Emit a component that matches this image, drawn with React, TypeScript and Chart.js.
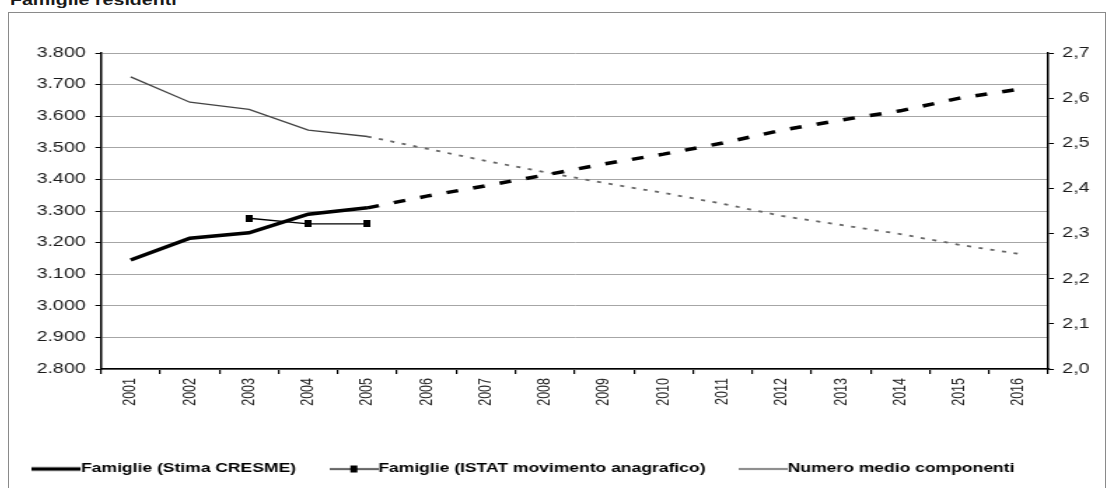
import React, { useEffect, useRef } from 'react';
import { Chart, registerables } from 'chart.js';

Chart.register(...registerables);

// ---------- data ----------
const years = ['2001', '2002', '2003', '2004', '2005', '2006', '2007', '2008', '2009', '2010', '2011', '2012', '2013', '2014', '2015', '2016'];
const famiglieCresme = [3145, 3214, 3231, 3290, 3310, 3347, 3380, 3414, 3449, 3480, 3515, 3556, 3588, 3617, 3657, 3685];
const famiglieIstat = [null, null, 3277, 3259, 3259, null, null, null, null, null, null, null, null, null, null, null];
const numeroMedio = [2.647, 2.591, 2.575, 2.529, 2.515, 2.488, 2.461, 2.436, 2.412, 2.39, 2.366, 2.339, 2.319, 2.299, 2.275, 2.255];
const lastObservedIndex = 4; // 2005: after this the series are projections
const seriesLabels = ['Famiglie (Stima CRESME)', 'Famiglie (ISTAT movimento anagrafico)', 'Numero medio componenti'];
const titleText = 'Famiglie residenti';
const leftAxis = { min: 2800, max: 3800, step: 100 };
const rightAxis = { min: 2.0, max: 2.7, step: 0.1 };

// ---------- rendering constants ----------
const SX = 1.4; // horizontal stretch of the original picture
const OX = 20; // hidden internal margin on the left of the canvas
const W = 804;
const H = 500;
const FONT = 'Liberation Sans, Arial, sans-serif';

function makeImg(w: number, h: number, draw: (ctx: CanvasRenderingContext2D) => void) {
  const c = document.createElement('canvas');
  c.width = w;
  c.height = h;
  const ctx = c.getContext('2d') as CanvasRenderingContext2D;
  draw(ctx);
  return c;
}

function fmtThousands(v: number) {
  const s = Math.round(v).toString();
  return s.replace(/\B(?=(\d{3})+(?!\d))/g, '.');
}

export default function App() {
  const ref = useRef<HTMLCanvasElement | null>(null);

  useEffect(() => {
    const canvas = ref.current;
    if (!canvas) return;

    const square = makeImg(5, 7, (ctx) => {
      ctx.fillStyle = '#000';
      ctx.fillRect(0, 0, 5, 7);
    });
    const legCresme = makeImg(35, 9, (ctx) => {
      ctx.fillStyle = '#000';
      ctx.fillRect(0, 2.75, 35, 3.5);
    });
    const legIstat = makeImg(35, 9, (ctx) => {
      ctx.fillStyle = '#000';
      ctx.fillRect(0, 3.9, 35, 1.3);
      ctx.fillRect(15, 1, 5, 7);
    });
    const legNumero = makeImg(35, 9, (ctx) => {
      ctx.fillStyle = '#333';
      ctx.fillRect(0, 3.9, 35, 1.2);
    });
    const legendImgs = [legCresme, legIstat, legNumero];

    const legendPad = 30;
    const fs = 12.5;
    const padLeft = 12.7;
    const areaLeft = 65.7 + OX;
    const areaRight = 742.1 + OX;

    const chart = new Chart(canvas, {
      type: 'line',
      data: {
        labels: years,
        datasets: [
          {
            label: seriesLabels[0],
            data: famiglieCresme,
            yAxisID: 'y',
            borderColor: '#000',
            borderWidth: 3.5,
            pointRadius: 0,
            tension: 0,
            segment: {
              borderDash: (ctx: any) => (ctx.p0DataIndex >= lastObservedIndex ? [8.5, 11] : undefined),
            },
          },
          {
            label: seriesLabels[1],
            data: famiglieIstat,
            yAxisID: 'y',
            borderColor: '#000',
            borderWidth: 1.3,
            pointStyle: square as any,
            pointRadius: 3,
            tension: 0,
            spanGaps: false,
          },
          {
            label: seriesLabels[2],
            data: numeroMedio,
            yAxisID: 'y1',
            borderColor: '#444',
            borderWidth: 1.3,
            pointRadius: 0,
            tension: 0,
            segment: {
              borderDash: (ctx: any) => (ctx.p0DataIndex >= lastObservedIndex ? [3, 5.5] : undefined),
              borderColor: (ctx: any) => (ctx.p0DataIndex >= lastObservedIndex ? '#666' : undefined),
              borderWidth: (ctx: any) => (ctx.p0DataIndex >= lastObservedIndex ? 1.8 : undefined),
            },
          },
        ],
      },
      options: {
        responsive: false,
        animation: false,
        events: [],
        layout: { padding: { top: 40, bottom: 27.75, left: padLeft, right: 0 } },
        plugins: {
          tooltip: { enabled: false },
          title: { display: false },
          legend: {
            display: true,
            position: 'bottom',
            align: 'start',
            labels: {
              usePointStyle: true,
              pointStyleWidth: 22.5,
              padding: legendPad,
              color: '#000',
              font: { family: FONT, size: fs, weight: 'bold' },
              generateLabels: () =>
                seriesLabels.map((t, i) => ({
                  text: t,
                  pointStyle: legendImgs[i] as any,
                  fillStyle: '#000',
                  strokeStyle: '#000',
                  lineWidth: 0,
                  hidden: false,
                  datasetIndex: i,
                })),
            },
          },
        },
        scales: {
          x: {
            type: 'category',
            offset: true,
            grid: { offset: true, drawOnChartArea: false, drawTicks: true, tickColor: '#000', tickLength: 5, lineWidth: 1.2 },
            border: { color: '#000', width: 1.5 },
            ticks: {
              autoSkip: false,
              minRotation: 90,
              maxRotation: 90,
              padding: 4,
              color: '#222',
              font: { family: FONT, size: 12.5 },
            },
            afterFit: (scale: any) => {
              scale.height = 63.75;
            },
          },
          y: {
            position: 'left',
            min: leftAxis.min,
            max: leftAxis.max,
            grid: { color: '#a6a6a6', lineWidth: 1, tickColor: '#000', tickLength: 4, drawTicks: true },
            border: { color: '#000', width: 1.5 },
            ticks: {
              stepSize: leftAxis.step,
              padding: 7,
              color: '#1a1a1a',
              font: { family: FONT, size: 14 },
              callback: (v: any) => fmtThousands(Number(v)),
            },
            afterFit: (scale: any) => {
              scale.width = areaLeft - padLeft;
            },
          },
          y1: {
            position: 'right',
            min: rightAxis.min,
            max: rightAxis.max,
            grid: { drawOnChartArea: false, tickColor: '#000', tickLength: 4, drawTicks: true },
            border: { color: '#000', width: 1.5 },
            ticks: {
              stepSize: rightAxis.step,
              padding: 6,
              color: '#1a1a1a',
              font: { family: FONT, size: 14 },
              callback: (v: any) => Number(v).toFixed(1).replace('.', ','),
            },
            afterFit: (scale: any) => {
              scale.width = W - areaRight;
            },
          },
        },
      },
    } as any);

    return () => {
      chart.destroy();
    };
  }, []);

  return (
    <div
      style={{
        position: 'fixed',
        left: 0,
        top: 0,
        width: 1108,
        height: 488,
        overflow: 'hidden',
        background: '#fff',
      }}
    >
      <div
        style={{
          position: 'absolute',
          left: 10,
          top: -7,
          fontFamily: FONT,
          fontWeight: 'bold',
          fontSize: 14,
          lineHeight: '14px',
          color: '#1a1a1a',
          whiteSpace: 'nowrap',
          transform: `scaleX(${SX})`,
          transformOrigin: 'left top',
        }}
      >
        {titleText}
      </div>
      <div
        style={{
          position: 'absolute',
          left: 8,
          top: 12,
          width: 1096,
          height: 480,
          border: '1px solid #8a8a8a',
          overflow: 'hidden',
        }}
      >
        <canvas
          ref={ref}
          width={W}
          height={H}
          style={{ position: 'absolute', left: -OX * SX, top: 0, width: W * SX, height: H, display: 'block' }}
        />
      </div>
    </div>
  );
}
